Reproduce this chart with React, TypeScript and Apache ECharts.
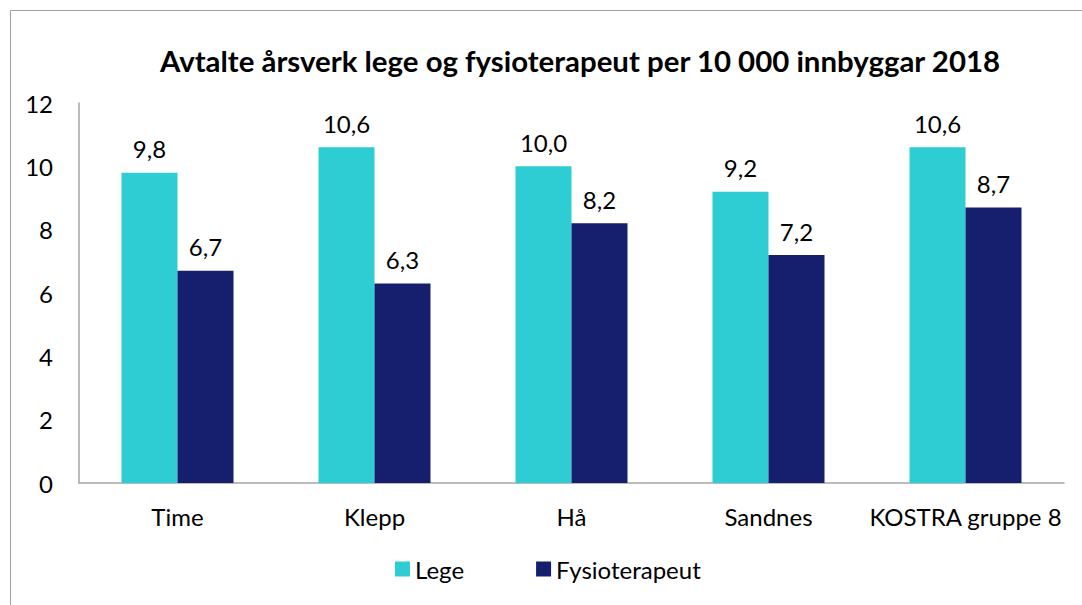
import React, { useEffect, useRef } from "react";
import * as echarts from "echarts";

const categories = ["Time", "Klepp", "Hå", "Sandnes", "KOSTRA gruppe 8"];
const lege = [9.8, 10.6, 10.0, 9.2, 10.6];
const fysio = [6.7, 6.3, 8.2, 7.2, 8.7];
const seriesNames = ["Lege", "Fysioterapeut"];
const titleText = "Avtalte årsverk lege og fysioterapeut per 10 000 innbyggar 2018";

const FONT = "Lato, 'Open Sans', sans-serif";
const FS = 24;

export default function App() {
  const ref = useRef<HTMLDivElement>(null);
  useEffect(() => {
    if (!ref.current) return;
    const chart = echarts.init(ref.current, null, { renderer: "svg" });
    const fmt = (p: any) => Number(p.value).toFixed(1).replace(".", ",");
    const labelStyle = {
      show: true,
      position: "top",
      distance: 12,
      formatter: fmt,
      fontFamily: FONT,
      fontSize: FS,
      color: "#000",
    };
    chart.setOption({
      animation: false,
      backgroundColor: "#ffffff",
      title: {
        text: titleText,
        left: 575,
        textAlign: "center",
        top: 41,
        textStyle: { fontFamily: FONT, fontWeight: "bold", fontSize: 29.4, color: "#000" },
      },
      graphic: [
        {
          type: "rect",
          shape: { x: 10.5, y: 10.5, width: 1080, height: 600 },
          style: { fill: "none", stroke: "#a0a0a0", lineWidth: 1 },
          silent: true,
        },
      ],
      legend: {
        data: seriesNames,
        top: 552,
        left: 390,
        itemWidth: 15,
        itemHeight: 15,
        itemGap: 72,
        icon: "rect",
        textStyle: { fontFamily: FONT, fontSize: FS, color: "#000" },
      },
      grid: { left: 79, right: 18, top: 103, bottom: 122, containLabel: false },
      xAxis: {
        type: "category",
        data: categories,
        axisLine: { show: true, lineStyle: { color: "#a6a6a6", width: 1.5 } },
        axisTick: { show: false },
        axisLabel: { fontFamily: FONT, fontSize: FS, color: "#000", margin: 21, interval: 0 },
      },
      yAxis: {
        type: "value",
        min: 0,
        max: 12,
        interval: 2,
        splitLine: { show: false },
        axisLine: { show: true, lineStyle: { color: "#a6a6a6", width: 1.5 } },
        axisTick: { show: false },
        axisLabel: { fontFamily: FONT, fontSize: FS, color: "#000", margin: 26 },
      },
      series: [
        {
          name: seriesNames[0],
          type: "bar",
          data: lege,
          barWidth: 56,
          barGap: "0%",
          itemStyle: { color: "#2ECCD3" },
          label: labelStyle,
        },
        {
          name: seriesNames[1],
          type: "bar",
          data: fysio,
          barWidth: 56,
          barGap: "0%",
          itemStyle: { color: "#161E6E" },
          label: labelStyle,
        },
      ],
    });
    return () => chart.dispose();
  }, []);
  return (
    <div
      ref={ref}
      style={{ position: "absolute", left: 0, top: 0, width: 1082, height: 605 }}
    />
  );
}
